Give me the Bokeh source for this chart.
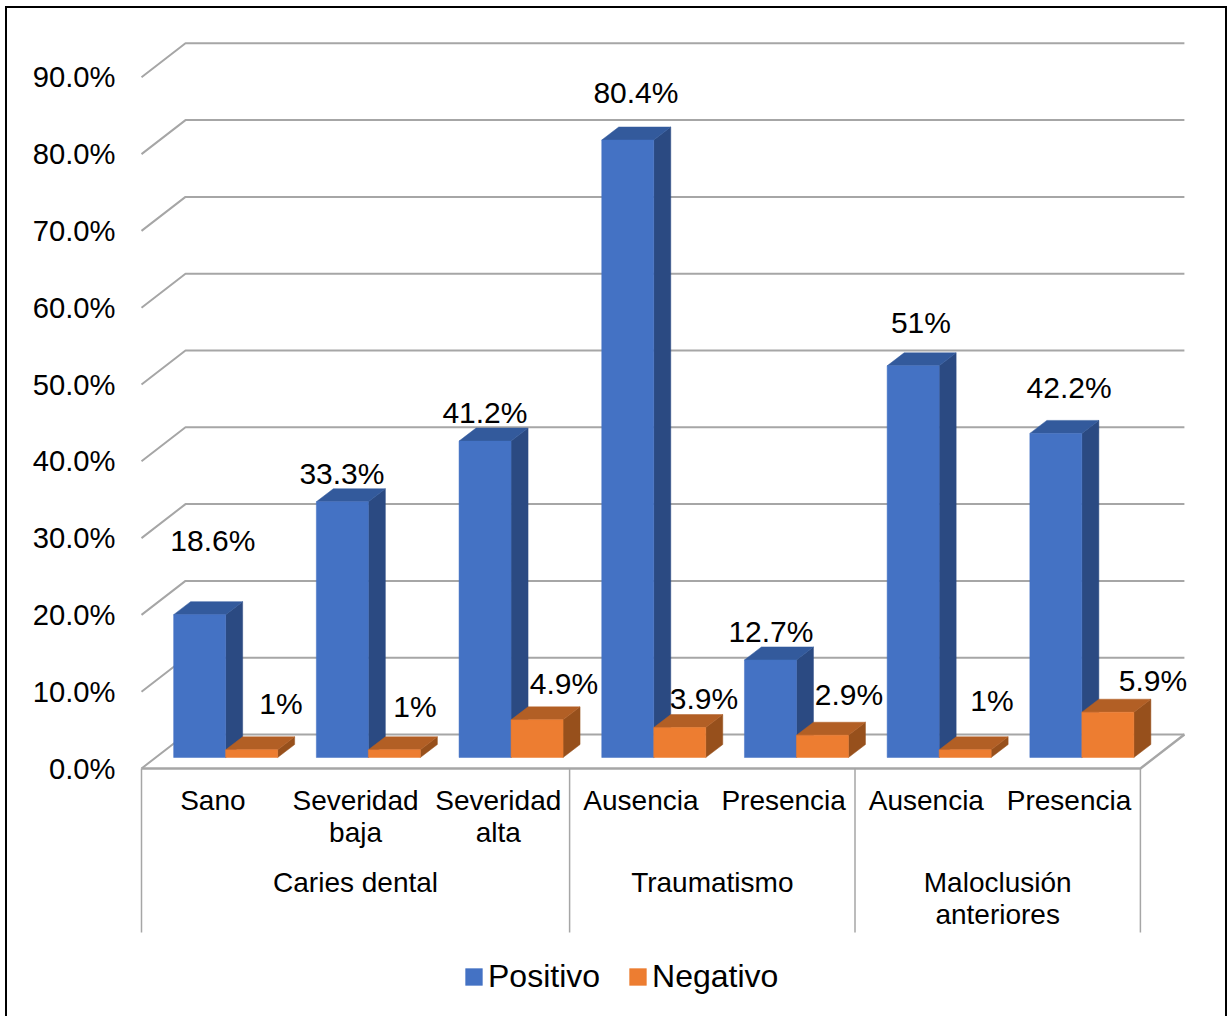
from bokeh.core.properties import value
from bokeh.embed import file_html
from bokeh.models import (ColumnDataSource, FixedTicker, Legend,
                          LegendItem, PrintfTickFormatter, Range1d)
from bokeh.plotting import figure
from bokeh.resources import INLINE

# Chart values
categories = ["Sano", "Severidad\nbaja", "Severidad\nalta", "Ausencia", "Presencia", "Ausencia", "Presencia"]
groups = ["Caries dental", "Traumatismo", "Maloclusión\nanteriores"]
group_spans = [(0, 3), (3, 5), (5, 7)]
positivo = [18.6, 33.3, 41.2, 80.4, 12.7, 51, 42.2]
negativo = [1, 1, 4.9, 3.9, 2.9, 1, 5.9]
positivo_labels = ["18.6%", "33.3%", "41.2%", "80.4%", "12.7%", "51%", "42.2%"]
negativo_labels = ["1%", "1%", "4.9%", "3.9%", "2.9%", "1%", "5.9%"]
y_ticks = [0, 10, 20, 30, 40, 50, 60, 70, 80, 90]

# Manually placed data labels: pixel shift from the top of each slot's bar
positivo_dx = [0.0, -13.6, -13.3, -5.0, -12.7, -5.4, 0.0]
positivo_dy = [-84.7, -38.8, -39.1, -59.0, -39.0, -54.8, -57.4]
negativo_dx = [68.1, 59.4, 65.7, 63.0, 65.3, 65.6, 83.9]
negativo_dy = [-57.8, -54.8, -46.9, -40.5, -52.2, -60.8, -42.2]

# Scale of the plot: pixels per category slot and per percentage point
W, H = 1229, 1016
SLOT = 142.7
UNIT = 7.68
ORIGIN_X, ORIGIN_Y = 141, 768
FRAME_LEFT = 118
FONT = "Liberation Sans"
GREY = "#a6a6a6"


def px_x(n):
    return n / SLOT


def px_y(n):
    return n / UNIT


# Oblique projection: depth of the box, of each bar, and the bars' inset from the front
BOX_DX, BOX_DY = px_x(44), px_y(34)
BAR_DX, BAR_DY = px_x(17), px_y(13)
INSET_DX, INSET_DY = px_x(12.8), px_y(11)
BAR_W = px_x(52)

# The black frame (left, top and right edges) is painted behind a transparent canvas
frame_css = (
    "linear-gradient(black,black) 5px 6px / 2px 1010px no-repeat,"
    "linear-gradient(black,black) 5px 6px / 1222px 2px no-repeat,"
    "linear-gradient(black,black) 1225px 6px / 2px 1010px no-repeat,"
    "white"
)

p = figure(
    width=W, height=H, output_backend="svg", toolbar_location=None, tools="",
    x_range=Range1d((FRAME_LEFT - ORIGIN_X) / SLOT, (W - ORIGIN_X) / SLOT),
    y_range=Range1d((ORIGIN_Y - H) / UNIT, ORIGIN_Y / UNIT),
    x_axis_location=None,
    min_border_left=FRAME_LEFT, min_border_right=0, min_border_top=0, min_border_bottom=0,
    styles={"background": frame_css},
)
p.outline_line_color = None
p.grid.visible = False
p.background_fill_color = None
p.border_fill_color = None

# Percentage axis
axis = p.yaxis[0]
axis.ticker = FixedTicker(ticks=y_ticks)
axis.formatter = PrintfTickFormatter(format="%.1f%%")
axis.axis_line_color = None
axis.major_tick_line_color = None
axis.minor_tick_line_color = None
axis.major_tick_out = 0
axis.major_tick_in = 0
axis.major_label_standoff = 3
axis.major_label_text_font = FONT
axis.major_label_text_font_size = "29.2px"
axis.major_label_text_color = "black"

# Wall gridlines, running from the front edge to the back and across
grid_xs = [[0, BOX_DX, len(categories) + BOX_DX] for _ in y_ticks]
grid_ys = [[v, v + BOX_DY, v + BOX_DY] for v in y_ticks]
p.multi_line(grid_xs, grid_ys, line_color=GREY, line_width=2)

# Floor: right edge and front edge of the box
n = len(categories)
p.line([n + BOX_DX, n, 0], [BOX_DY, 0, 0], line_color=GREY, line_width=2.4)


def faces(values, start):
    """Front, top and side polygons of one series' bars."""
    front_x, front_y, top_x, top_y, side_x, side_y = [], [], [], [], [], []
    for i, v in enumerate(values):
        x0 = i + 0.5 + INSET_DX + start
        x1 = x0 + BAR_W
        y0 = INSET_DY
        y1 = y0 + v
        front_x.append([x0, x1, x1, x0])
        front_y.append([y0, y0, y1, y1])
        top_x.append([x0, x1, x1 + BAR_DX, x0 + BAR_DX])
        top_y.append([y1, y1, y1 + BAR_DY, y1 + BAR_DY])
        side_x.append([x1, x1 + BAR_DX, x1 + BAR_DX, x1])
        side_y.append([y0, y0 + BAR_DY, y1 + BAR_DY, y1])
    return (front_x, front_y), (top_x, top_y), (side_x, side_y)


def draw_series(values, start, front_color, top_color, side_color):
    front, top, side = faces(values, start)
    p.patches(side[0], side[1], fill_color=side_color, line_color=side_color, line_width=0.5)
    p.patches(top[0], top[1], fill_color=top_color, line_color=top_color, line_width=0.5)
    return p.patches(front[0], front[1], fill_color=front_color, line_color=front_color, line_width=0.5)


blue = draw_series(positivo, -BAR_W, "#4472c4", "#335a9c", "#2b4a82")
orange = draw_series(negativo, 0, "#ed7d31", "#b25f25", "#97501c")


def labels(values, texts, dx, dy):
    source = ColumnDataSource(dict(
        x=[i + 0.5 for i in range(len(values))], y=values, t=texts, dx=dx, dy=dy))
    p.text("x", "y", text="t", x_offset="dx", y_offset="dy", source=source,
           text_font=value(FONT), text_font_size="30px", text_color="black",
           text_align="center", text_baseline="middle")


labels(positivo, positivo_labels, positivo_dx, positivo_dy)
labels(negativo, negativo_labels, negativo_dx, negativo_dy)

# Two-level category axis underneath the box
cat_source = ColumnDataSource(dict(x=[i + 0.5 for i in range(n)], y=[0] * n, t=categories))
p.text("x", "y", text="t", y_offset=16, source=cat_source,
       text_font=value(FONT), text_font_size="28px", text_color="black",
       text_align="center", text_baseline="top", text_line_height=1.04)

group_source = ColumnDataSource(dict(
    x=[(a + b) / 2 for a, b in group_spans], y=[0] * len(groups), t=groups))
p.text("x", "y", text="t", y_offset=98, source=group_source,
       text_font=value(FONT), text_font_size="28px", text_color="black",
       text_align="center", text_baseline="top", text_line_height=1.04)

edges = [0] + [b for _, b in group_spans]
divider_bottom = px_y(164)
p.segment(edges, [0] * len(edges), edges, [-divider_bottom] * len(edges),
          line_color=GREY, line_width=1.5)

# Legend below the category axis
legend = Legend(
    items=[LegendItem(label="Positivo", renderers=[blue]),
           LegendItem(label="Negativo", renderers=[orange])],
    orientation="horizontal", location=(345, 21),
    glyph_width=21, glyph_height=21, label_standoff=4, spacing=27,
    margin=0, padding=0, border_line_color=None, background_fill_color=None,
    background_fill_alpha=0, label_text_font=FONT, label_text_font_size="32px",
    label_text_color="black", label_height=36,
)
p.add_layout(legend)

open("out.html", "w").write(file_html(p, INLINE))
